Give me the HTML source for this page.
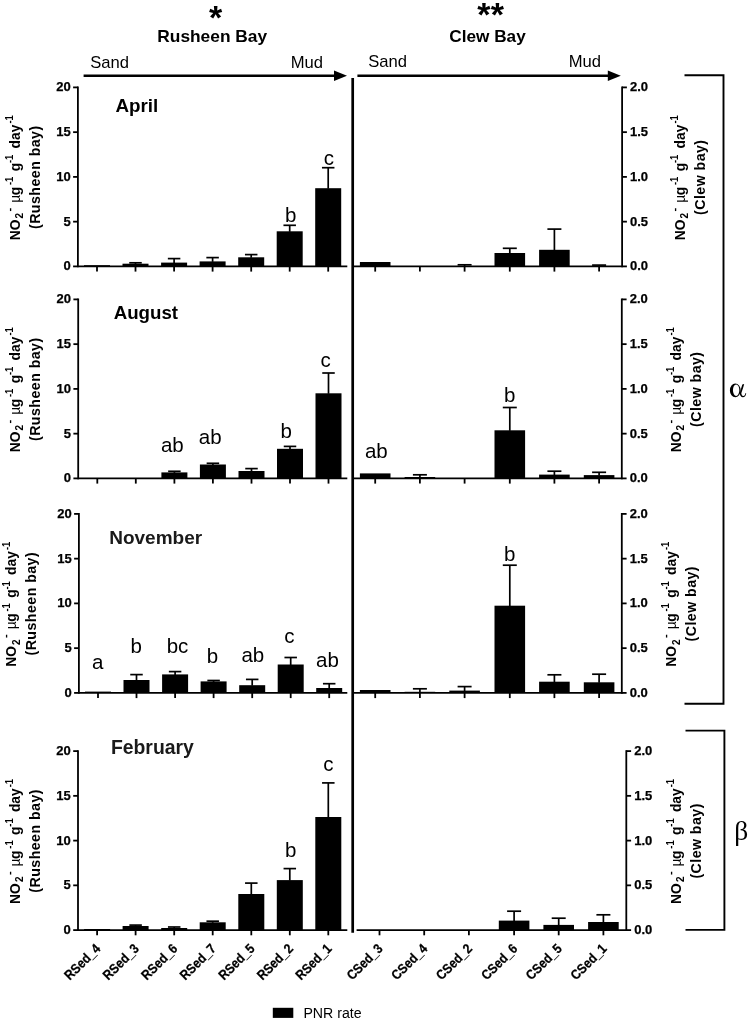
<!DOCTYPE html>
<html><head><meta charset="utf-8"><title>PNR rate</title>
<style>html,body{margin:0;padding:0;background:#fff;}svg{display:block;}text{font-family:"Liberation Sans", sans-serif;fill:#000;}.tk{stroke:#000;stroke-width:0.25px;}</style></head><body>
<svg width="750" height="1021" viewBox="0 0 750 1021">
<defs><filter id="soft" x="0" y="0" width="100%" height="100%" filterUnits="userSpaceOnUse" color-interpolation-filters="sRGB"><feGaussianBlur stdDeviation="0.5"/></filter></defs>
<rect width="750" height="1021" fill="#fff"/>
<g filter="url(#soft)">
<rect width="750" height="1021" fill="#fff"/>
<text x="215.5" y="28.7" font-size="34" font-weight="bold" text-anchor="middle">*</text>
<text x="483.8" y="25.8" font-size="34" font-weight="bold" text-anchor="middle">*</text>
<text x="497.4" y="25.8" font-size="34" font-weight="bold" text-anchor="middle">*</text>
<text x="157.3" y="42" font-size="16.4" font-weight="bold" textLength="109.8" lengthAdjust="spacingAndGlyphs">Rusheen Bay</text>
<text x="449.3" y="42.2" font-size="16.4" font-weight="bold" textLength="76.4" lengthAdjust="spacingAndGlyphs">Clew Bay</text>
<text x="90.2" y="68" font-size="16.6">Sand</text>
<text x="290.8" y="67.6" font-size="16.6">Mud</text>
<text x="368.2" y="66.6" font-size="16.6">Sand</text>
<text x="568.8" y="66.5" font-size="16.6">Mud</text>
<line x1="83.60" y1="75.70" x2="337.00" y2="75.70" stroke="#000" stroke-width="2.40"/>
<polygon points="347.00,75.70 334.00,70.50 334.00,80.90" fill="#000"/>
<line x1="357.40" y1="75.70" x2="610.80" y2="75.70" stroke="#000" stroke-width="2.40"/>
<polygon points="620.80,75.70 607.80,70.50 607.80,80.90" fill="#000"/>
<line x1="352.70" y1="78.00" x2="352.70" y2="932.80" stroke="#000" stroke-width="2.70"/>
<line x1="77.90" y1="86.50" x2="77.90" y2="267.30" stroke="#000" stroke-width="1.80"/>
<line x1="73.10" y1="266.40" x2="77.90" y2="266.40" stroke="#000" stroke-width="1.80"/>
<text x="70.70" y="270.40" font-size="13" font-weight="bold" text-anchor="end" class="tk">0</text>
<line x1="73.10" y1="221.65" x2="77.90" y2="221.65" stroke="#000" stroke-width="1.80"/>
<text x="70.70" y="225.65" font-size="13" font-weight="bold" text-anchor="end" class="tk">5</text>
<line x1="73.10" y1="176.90" x2="77.90" y2="176.90" stroke="#000" stroke-width="1.80"/>
<text x="70.70" y="180.90" font-size="13" font-weight="bold" text-anchor="end" class="tk">10</text>
<line x1="73.10" y1="132.15" x2="77.90" y2="132.15" stroke="#000" stroke-width="1.80"/>
<text x="70.70" y="136.15" font-size="13" font-weight="bold" text-anchor="end" class="tk">15</text>
<line x1="73.10" y1="87.40" x2="77.90" y2="87.40" stroke="#000" stroke-width="1.80"/>
<text x="70.70" y="91.40" font-size="13" font-weight="bold" text-anchor="end" class="tk">20</text>
<line x1="77.90" y1="266.40" x2="347.30" y2="266.40" stroke="#000" stroke-width="1.80"/>
<line x1="97.00" y1="266.40" x2="97.00" y2="271.60" stroke="#000" stroke-width="1.80"/>
<line x1="135.50" y1="266.40" x2="135.50" y2="271.60" stroke="#000" stroke-width="1.80"/>
<line x1="174.10" y1="266.40" x2="174.10" y2="271.60" stroke="#000" stroke-width="1.80"/>
<line x1="212.60" y1="266.40" x2="212.60" y2="271.60" stroke="#000" stroke-width="1.80"/>
<line x1="251.20" y1="266.40" x2="251.20" y2="271.60" stroke="#000" stroke-width="1.80"/>
<line x1="289.70" y1="266.40" x2="289.70" y2="271.60" stroke="#000" stroke-width="1.80"/>
<line x1="328.20" y1="266.40" x2="328.20" y2="271.60" stroke="#000" stroke-width="1.80"/>
<line x1="354.00" y1="266.40" x2="622.10" y2="266.40" stroke="#000" stroke-width="1.80"/>
<line x1="622.10" y1="86.50" x2="622.10" y2="267.30" stroke="#000" stroke-width="1.80"/>
<line x1="375.20" y1="266.40" x2="375.20" y2="271.60" stroke="#000" stroke-width="1.80"/>
<line x1="419.90" y1="266.40" x2="419.90" y2="271.60" stroke="#000" stroke-width="1.80"/>
<line x1="464.60" y1="266.40" x2="464.60" y2="271.60" stroke="#000" stroke-width="1.80"/>
<line x1="509.80" y1="266.40" x2="509.80" y2="271.60" stroke="#000" stroke-width="1.80"/>
<line x1="554.40" y1="266.40" x2="554.40" y2="271.60" stroke="#000" stroke-width="1.80"/>
<line x1="599.10" y1="266.40" x2="599.10" y2="271.60" stroke="#000" stroke-width="1.80"/>
<line x1="622.10" y1="266.40" x2="626.90" y2="266.40" stroke="#000" stroke-width="1.80"/>
<text x="630.00" y="270.40" font-size="13" font-weight="bold" class="tk">0.0</text>
<line x1="622.10" y1="221.65" x2="626.90" y2="221.65" stroke="#000" stroke-width="1.80"/>
<text x="630.00" y="225.65" font-size="13" font-weight="bold" class="tk">0.5</text>
<line x1="622.10" y1="176.90" x2="626.90" y2="176.90" stroke="#000" stroke-width="1.80"/>
<text x="630.00" y="180.90" font-size="13" font-weight="bold" class="tk">1.0</text>
<line x1="622.10" y1="132.15" x2="626.90" y2="132.15" stroke="#000" stroke-width="1.80"/>
<text x="630.00" y="136.15" font-size="13" font-weight="bold" class="tk">1.5</text>
<line x1="622.10" y1="87.40" x2="626.90" y2="87.40" stroke="#000" stroke-width="1.80"/>
<text x="630.00" y="91.40" font-size="13" font-weight="bold" class="tk">2.0</text>
<rect x="84.00" y="265.20" width="26.00" height="1.20" fill="#000"/>
<line x1="135.50" y1="262.80" x2="135.50" y2="264.20" stroke="#000" stroke-width="1.70"/>
<line x1="129.25" y1="262.80" x2="141.75" y2="262.80" stroke="#000" stroke-width="1.70"/>
<rect x="122.50" y="263.70" width="26.00" height="2.70" fill="#000"/>
<line x1="174.10" y1="258.60" x2="174.10" y2="263.10" stroke="#000" stroke-width="1.70"/>
<line x1="167.85" y1="258.60" x2="180.35" y2="258.60" stroke="#000" stroke-width="1.70"/>
<rect x="161.10" y="262.60" width="26.00" height="3.80" fill="#000"/>
<line x1="212.60" y1="257.60" x2="212.60" y2="261.90" stroke="#000" stroke-width="1.70"/>
<line x1="206.35" y1="257.60" x2="218.85" y2="257.60" stroke="#000" stroke-width="1.70"/>
<rect x="199.60" y="261.40" width="26.00" height="5.00" fill="#000"/>
<line x1="251.20" y1="254.60" x2="251.20" y2="257.80" stroke="#000" stroke-width="1.70"/>
<line x1="244.95" y1="254.60" x2="257.45" y2="254.60" stroke="#000" stroke-width="1.70"/>
<rect x="238.20" y="257.30" width="26.00" height="9.10" fill="#000"/>
<line x1="289.70" y1="225.30" x2="289.70" y2="231.80" stroke="#000" stroke-width="1.70"/>
<line x1="283.45" y1="225.30" x2="295.95" y2="225.30" stroke="#000" stroke-width="1.70"/>
<rect x="276.70" y="231.30" width="26.00" height="35.10" fill="#000"/>
<line x1="328.20" y1="167.70" x2="328.20" y2="188.70" stroke="#000" stroke-width="1.70"/>
<line x1="321.95" y1="167.70" x2="334.45" y2="167.70" stroke="#000" stroke-width="1.70"/>
<rect x="315.20" y="188.20" width="26.00" height="78.20" fill="#000"/>
<rect x="359.90" y="262.00" width="30.60" height="4.40" fill="#000"/>
<line x1="464.60" y1="264.80" x2="464.60" y2="266.50" stroke="#000" stroke-width="1.70"/>
<line x1="457.60" y1="264.80" x2="471.60" y2="264.80" stroke="#000" stroke-width="1.70"/>
<rect x="449.30" y="266.00" width="30.60" height="0.40" fill="#000"/>
<line x1="509.80" y1="248.30" x2="509.80" y2="253.50" stroke="#000" stroke-width="1.70"/>
<line x1="502.80" y1="248.30" x2="516.80" y2="248.30" stroke="#000" stroke-width="1.70"/>
<rect x="494.50" y="253.00" width="30.60" height="13.40" fill="#000"/>
<line x1="554.40" y1="229.10" x2="554.40" y2="250.30" stroke="#000" stroke-width="1.70"/>
<line x1="547.40" y1="229.10" x2="561.40" y2="229.10" stroke="#000" stroke-width="1.70"/>
<rect x="539.10" y="249.80" width="30.60" height="16.60" fill="#000"/>
<line x1="599.10" y1="265.10" x2="599.10" y2="266.50" stroke="#000" stroke-width="1.70"/>
<line x1="592.10" y1="265.10" x2="606.10" y2="265.10" stroke="#000" stroke-width="1.70"/>
<rect x="583.80" y="266.00" width="30.60" height="0.40" fill="#000"/>
<g transform="translate(19.70,177.20) rotate(-90)" font-weight="bold" font-size="13.8">
<text x="-63.10" y="0">NO</text>
<text x="-41.20" y="3.6" font-size="10">2</text>
<text x="-34.20" y="-7.0" font-size="11.2">-</text>
<text x="-25.60" y="0" font-weight="normal">µ</text>
<text x="-18.00" y="0">g</text>
<text x="-7.80" y="-6.6" font-size="11.2" textLength="8.3" lengthAdjust="spacingAndGlyphs">-1</text>
<text x="6.00" y="0">g</text>
<text x="14.20" y="-6.6" font-size="11.2" textLength="8.3" lengthAdjust="spacingAndGlyphs">-1</text>
<text x="28.80" y="0">day</text>
<text x="53.60" y="-6.6" font-size="11.2" textLength="8.3" lengthAdjust="spacingAndGlyphs">-1</text>
<text x="0" y="20.1" text-anchor="middle" font-size="14.2" letter-spacing="0.45">(Rusheen bay)</text>
</g>
<g transform="translate(684.80,177.20) rotate(-90)" font-weight="bold" font-size="13.8">
<text x="-63.10" y="0">NO</text>
<text x="-41.20" y="3.6" font-size="10">2</text>
<text x="-34.20" y="-7.0" font-size="11.2">-</text>
<text x="-25.60" y="0" font-weight="normal">µ</text>
<text x="-18.00" y="0">g</text>
<text x="-7.80" y="-6.6" font-size="11.2" textLength="8.3" lengthAdjust="spacingAndGlyphs">-1</text>
<text x="6.00" y="0">g</text>
<text x="14.20" y="-6.6" font-size="11.2" textLength="8.3" lengthAdjust="spacingAndGlyphs">-1</text>
<text x="28.80" y="0">day</text>
<text x="53.60" y="-6.6" font-size="11.2" textLength="8.3" lengthAdjust="spacingAndGlyphs">-1</text>
<text x="0" y="20.1" text-anchor="middle" font-size="14.2" letter-spacing="0.45">(Clew bay)</text>
</g>
<line x1="78.20" y1="298.50" x2="78.20" y2="479.30" stroke="#000" stroke-width="1.80"/>
<line x1="73.40" y1="478.40" x2="78.20" y2="478.40" stroke="#000" stroke-width="1.80"/>
<text x="71.00" y="482.40" font-size="13" font-weight="bold" text-anchor="end" class="tk">0</text>
<line x1="73.40" y1="433.65" x2="78.20" y2="433.65" stroke="#000" stroke-width="1.80"/>
<text x="71.00" y="437.65" font-size="13" font-weight="bold" text-anchor="end" class="tk">5</text>
<line x1="73.40" y1="388.90" x2="78.20" y2="388.90" stroke="#000" stroke-width="1.80"/>
<text x="71.00" y="392.90" font-size="13" font-weight="bold" text-anchor="end" class="tk">10</text>
<line x1="73.40" y1="344.15" x2="78.20" y2="344.15" stroke="#000" stroke-width="1.80"/>
<text x="71.00" y="348.15" font-size="13" font-weight="bold" text-anchor="end" class="tk">15</text>
<line x1="73.40" y1="299.40" x2="78.20" y2="299.40" stroke="#000" stroke-width="1.80"/>
<text x="71.00" y="303.40" font-size="13" font-weight="bold" text-anchor="end" class="tk">20</text>
<line x1="78.20" y1="478.40" x2="347.30" y2="478.40" stroke="#000" stroke-width="1.80"/>
<line x1="97.30" y1="478.40" x2="97.30" y2="483.60" stroke="#000" stroke-width="1.80"/>
<line x1="135.80" y1="478.40" x2="135.80" y2="483.60" stroke="#000" stroke-width="1.80"/>
<line x1="174.40" y1="478.40" x2="174.40" y2="483.60" stroke="#000" stroke-width="1.80"/>
<line x1="212.90" y1="478.40" x2="212.90" y2="483.60" stroke="#000" stroke-width="1.80"/>
<line x1="251.50" y1="478.40" x2="251.50" y2="483.60" stroke="#000" stroke-width="1.80"/>
<line x1="290.00" y1="478.40" x2="290.00" y2="483.60" stroke="#000" stroke-width="1.80"/>
<line x1="328.50" y1="478.40" x2="328.50" y2="483.60" stroke="#000" stroke-width="1.80"/>
<line x1="354.00" y1="478.40" x2="621.80" y2="478.40" stroke="#000" stroke-width="1.80"/>
<line x1="621.80" y1="298.50" x2="621.80" y2="479.30" stroke="#000" stroke-width="1.80"/>
<line x1="375.20" y1="478.40" x2="375.20" y2="483.60" stroke="#000" stroke-width="1.80"/>
<line x1="419.90" y1="478.40" x2="419.90" y2="483.60" stroke="#000" stroke-width="1.80"/>
<line x1="464.60" y1="478.40" x2="464.60" y2="483.60" stroke="#000" stroke-width="1.80"/>
<line x1="509.80" y1="478.40" x2="509.80" y2="483.60" stroke="#000" stroke-width="1.80"/>
<line x1="554.40" y1="478.40" x2="554.40" y2="483.60" stroke="#000" stroke-width="1.80"/>
<line x1="599.10" y1="478.40" x2="599.10" y2="483.60" stroke="#000" stroke-width="1.80"/>
<line x1="621.80" y1="478.40" x2="626.60" y2="478.40" stroke="#000" stroke-width="1.80"/>
<text x="629.70" y="482.40" font-size="13" font-weight="bold" class="tk">0.0</text>
<line x1="621.80" y1="433.65" x2="626.60" y2="433.65" stroke="#000" stroke-width="1.80"/>
<text x="629.70" y="437.65" font-size="13" font-weight="bold" class="tk">0.5</text>
<line x1="621.80" y1="388.90" x2="626.60" y2="388.90" stroke="#000" stroke-width="1.80"/>
<text x="629.70" y="392.90" font-size="13" font-weight="bold" class="tk">1.0</text>
<line x1="621.80" y1="344.15" x2="626.60" y2="344.15" stroke="#000" stroke-width="1.80"/>
<text x="629.70" y="348.15" font-size="13" font-weight="bold" class="tk">1.5</text>
<line x1="621.80" y1="299.40" x2="626.60" y2="299.40" stroke="#000" stroke-width="1.80"/>
<text x="629.70" y="303.40" font-size="13" font-weight="bold" class="tk">2.0</text>
<line x1="174.40" y1="471.30" x2="174.40" y2="472.90" stroke="#000" stroke-width="1.70"/>
<line x1="168.15" y1="471.30" x2="180.65" y2="471.30" stroke="#000" stroke-width="1.70"/>
<rect x="161.40" y="472.40" width="26.00" height="6.00" fill="#000"/>
<line x1="212.90" y1="463.30" x2="212.90" y2="465.00" stroke="#000" stroke-width="1.70"/>
<line x1="206.65" y1="463.30" x2="219.15" y2="463.30" stroke="#000" stroke-width="1.70"/>
<rect x="199.90" y="464.50" width="26.00" height="13.90" fill="#000"/>
<line x1="251.50" y1="468.60" x2="251.50" y2="471.50" stroke="#000" stroke-width="1.70"/>
<line x1="245.25" y1="468.60" x2="257.75" y2="468.60" stroke="#000" stroke-width="1.70"/>
<rect x="238.50" y="471.00" width="26.00" height="7.40" fill="#000"/>
<line x1="290.00" y1="446.40" x2="290.00" y2="449.30" stroke="#000" stroke-width="1.70"/>
<line x1="283.75" y1="446.40" x2="296.25" y2="446.40" stroke="#000" stroke-width="1.70"/>
<rect x="277.00" y="448.80" width="26.00" height="29.60" fill="#000"/>
<line x1="328.50" y1="373.00" x2="328.50" y2="393.80" stroke="#000" stroke-width="1.70"/>
<line x1="322.25" y1="373.00" x2="334.75" y2="373.00" stroke="#000" stroke-width="1.70"/>
<rect x="315.50" y="393.30" width="26.00" height="85.10" fill="#000"/>
<rect x="359.90" y="473.40" width="30.60" height="5.00" fill="#000"/>
<line x1="419.90" y1="474.80" x2="419.90" y2="477.50" stroke="#000" stroke-width="1.70"/>
<line x1="412.90" y1="474.80" x2="426.90" y2="474.80" stroke="#000" stroke-width="1.70"/>
<rect x="404.60" y="477.00" width="30.60" height="1.40" fill="#000"/>
<line x1="509.80" y1="407.50" x2="509.80" y2="430.80" stroke="#000" stroke-width="1.70"/>
<line x1="502.80" y1="407.50" x2="516.80" y2="407.50" stroke="#000" stroke-width="1.70"/>
<rect x="494.50" y="430.30" width="30.60" height="48.10" fill="#000"/>
<line x1="554.40" y1="471.20" x2="554.40" y2="475.10" stroke="#000" stroke-width="1.70"/>
<line x1="547.40" y1="471.20" x2="561.40" y2="471.20" stroke="#000" stroke-width="1.70"/>
<rect x="539.10" y="474.60" width="30.60" height="3.80" fill="#000"/>
<line x1="599.10" y1="472.30" x2="599.10" y2="475.60" stroke="#000" stroke-width="1.70"/>
<line x1="592.10" y1="472.30" x2="606.10" y2="472.30" stroke="#000" stroke-width="1.70"/>
<rect x="583.80" y="475.10" width="30.60" height="3.30" fill="#000"/>
<g transform="translate(19.70,389.20) rotate(-90)" font-weight="bold" font-size="13.8">
<text x="-63.10" y="0">NO</text>
<text x="-41.20" y="3.6" font-size="10">2</text>
<text x="-34.20" y="-7.0" font-size="11.2">-</text>
<text x="-25.60" y="0" font-weight="normal">µ</text>
<text x="-18.00" y="0">g</text>
<text x="-7.80" y="-6.6" font-size="11.2" textLength="8.3" lengthAdjust="spacingAndGlyphs">-1</text>
<text x="6.00" y="0">g</text>
<text x="14.20" y="-6.6" font-size="11.2" textLength="8.3" lengthAdjust="spacingAndGlyphs">-1</text>
<text x="28.80" y="0">day</text>
<text x="53.60" y="-6.6" font-size="11.2" textLength="8.3" lengthAdjust="spacingAndGlyphs">-1</text>
<text x="0" y="20.1" text-anchor="middle" font-size="14.2" letter-spacing="0.45">(Rusheen bay)</text>
</g>
<g transform="translate(680.70,389.20) rotate(-90)" font-weight="bold" font-size="13.8">
<text x="-63.10" y="0">NO</text>
<text x="-41.20" y="3.6" font-size="10">2</text>
<text x="-34.20" y="-7.0" font-size="11.2">-</text>
<text x="-25.60" y="0" font-weight="normal">µ</text>
<text x="-18.00" y="0">g</text>
<text x="-7.80" y="-6.6" font-size="11.2" textLength="8.3" lengthAdjust="spacingAndGlyphs">-1</text>
<text x="6.00" y="0">g</text>
<text x="14.20" y="-6.6" font-size="11.2" textLength="8.3" lengthAdjust="spacingAndGlyphs">-1</text>
<text x="28.80" y="0">day</text>
<text x="53.60" y="-6.6" font-size="11.2" textLength="8.3" lengthAdjust="spacingAndGlyphs">-1</text>
<text x="0" y="20.1" text-anchor="middle" font-size="14.2" letter-spacing="0.45">(Clew bay)</text>
</g>
<line x1="78.90" y1="513.00" x2="78.90" y2="693.80" stroke="#000" stroke-width="1.80"/>
<line x1="74.10" y1="692.90" x2="78.90" y2="692.90" stroke="#000" stroke-width="1.80"/>
<text x="71.70" y="696.90" font-size="13" font-weight="bold" text-anchor="end" class="tk">0</text>
<line x1="74.10" y1="648.15" x2="78.90" y2="648.15" stroke="#000" stroke-width="1.80"/>
<text x="71.70" y="652.15" font-size="13" font-weight="bold" text-anchor="end" class="tk">5</text>
<line x1="74.10" y1="603.40" x2="78.90" y2="603.40" stroke="#000" stroke-width="1.80"/>
<text x="71.70" y="607.40" font-size="13" font-weight="bold" text-anchor="end" class="tk">10</text>
<line x1="74.10" y1="558.65" x2="78.90" y2="558.65" stroke="#000" stroke-width="1.80"/>
<text x="71.70" y="562.65" font-size="13" font-weight="bold" text-anchor="end" class="tk">15</text>
<line x1="74.10" y1="513.90" x2="78.90" y2="513.90" stroke="#000" stroke-width="1.80"/>
<text x="71.70" y="517.90" font-size="13" font-weight="bold" text-anchor="end" class="tk">20</text>
<line x1="78.90" y1="692.90" x2="347.30" y2="692.90" stroke="#000" stroke-width="1.80"/>
<line x1="98.00" y1="692.90" x2="98.00" y2="698.10" stroke="#000" stroke-width="1.80"/>
<line x1="136.50" y1="692.90" x2="136.50" y2="698.10" stroke="#000" stroke-width="1.80"/>
<line x1="175.10" y1="692.90" x2="175.10" y2="698.10" stroke="#000" stroke-width="1.80"/>
<line x1="213.60" y1="692.90" x2="213.60" y2="698.10" stroke="#000" stroke-width="1.80"/>
<line x1="252.20" y1="692.90" x2="252.20" y2="698.10" stroke="#000" stroke-width="1.80"/>
<line x1="290.70" y1="692.90" x2="290.70" y2="698.10" stroke="#000" stroke-width="1.80"/>
<line x1="329.20" y1="692.90" x2="329.20" y2="698.10" stroke="#000" stroke-width="1.80"/>
<line x1="354.00" y1="692.90" x2="621.80" y2="692.90" stroke="#000" stroke-width="1.80"/>
<line x1="621.80" y1="513.00" x2="621.80" y2="693.80" stroke="#000" stroke-width="1.80"/>
<line x1="375.20" y1="692.90" x2="375.20" y2="698.10" stroke="#000" stroke-width="1.80"/>
<line x1="419.90" y1="692.90" x2="419.90" y2="698.10" stroke="#000" stroke-width="1.80"/>
<line x1="464.60" y1="692.90" x2="464.60" y2="698.10" stroke="#000" stroke-width="1.80"/>
<line x1="509.80" y1="692.90" x2="509.80" y2="698.10" stroke="#000" stroke-width="1.80"/>
<line x1="554.40" y1="692.90" x2="554.40" y2="698.10" stroke="#000" stroke-width="1.80"/>
<line x1="599.10" y1="692.90" x2="599.10" y2="698.10" stroke="#000" stroke-width="1.80"/>
<line x1="621.80" y1="692.90" x2="626.60" y2="692.90" stroke="#000" stroke-width="1.80"/>
<text x="629.70" y="696.90" font-size="13" font-weight="bold" class="tk">0.0</text>
<line x1="621.80" y1="648.15" x2="626.60" y2="648.15" stroke="#000" stroke-width="1.80"/>
<text x="629.70" y="652.15" font-size="13" font-weight="bold" class="tk">0.5</text>
<line x1="621.80" y1="603.40" x2="626.60" y2="603.40" stroke="#000" stroke-width="1.80"/>
<text x="629.70" y="607.40" font-size="13" font-weight="bold" class="tk">1.0</text>
<line x1="621.80" y1="558.65" x2="626.60" y2="558.65" stroke="#000" stroke-width="1.80"/>
<text x="629.70" y="562.65" font-size="13" font-weight="bold" class="tk">1.5</text>
<line x1="621.80" y1="513.90" x2="626.60" y2="513.90" stroke="#000" stroke-width="1.80"/>
<text x="629.70" y="517.90" font-size="13" font-weight="bold" class="tk">2.0</text>
<rect x="85.00" y="691.60" width="26.00" height="1.30" fill="#000"/>
<line x1="136.50" y1="674.60" x2="136.50" y2="680.50" stroke="#000" stroke-width="1.70"/>
<line x1="130.25" y1="674.60" x2="142.75" y2="674.60" stroke="#000" stroke-width="1.70"/>
<rect x="123.50" y="680.00" width="26.00" height="12.90" fill="#000"/>
<line x1="175.10" y1="671.60" x2="175.10" y2="674.90" stroke="#000" stroke-width="1.70"/>
<line x1="168.85" y1="671.60" x2="181.35" y2="671.60" stroke="#000" stroke-width="1.70"/>
<rect x="162.10" y="674.40" width="26.00" height="18.50" fill="#000"/>
<line x1="213.60" y1="680.50" x2="213.60" y2="681.90" stroke="#000" stroke-width="1.70"/>
<line x1="207.35" y1="680.50" x2="219.85" y2="680.50" stroke="#000" stroke-width="1.70"/>
<rect x="200.60" y="681.40" width="26.00" height="11.50" fill="#000"/>
<line x1="252.20" y1="679.40" x2="252.20" y2="685.70" stroke="#000" stroke-width="1.70"/>
<line x1="245.95" y1="679.40" x2="258.45" y2="679.40" stroke="#000" stroke-width="1.70"/>
<rect x="239.20" y="685.20" width="26.00" height="7.70" fill="#000"/>
<line x1="290.70" y1="657.50" x2="290.70" y2="665.00" stroke="#000" stroke-width="1.70"/>
<line x1="284.45" y1="657.50" x2="296.95" y2="657.50" stroke="#000" stroke-width="1.70"/>
<rect x="277.70" y="664.50" width="26.00" height="28.40" fill="#000"/>
<line x1="329.20" y1="683.70" x2="329.20" y2="688.50" stroke="#000" stroke-width="1.70"/>
<line x1="322.95" y1="683.70" x2="335.45" y2="683.70" stroke="#000" stroke-width="1.70"/>
<rect x="316.20" y="688.00" width="26.00" height="4.90" fill="#000"/>
<rect x="359.90" y="690.00" width="30.60" height="2.90" fill="#000"/>
<line x1="419.90" y1="688.80" x2="419.90" y2="692.30" stroke="#000" stroke-width="1.70"/>
<line x1="412.90" y1="688.80" x2="426.90" y2="688.80" stroke="#000" stroke-width="1.70"/>
<rect x="404.60" y="691.80" width="30.60" height="1.10" fill="#000"/>
<line x1="464.60" y1="686.60" x2="464.60" y2="691.10" stroke="#000" stroke-width="1.70"/>
<line x1="457.60" y1="686.60" x2="471.60" y2="686.60" stroke="#000" stroke-width="1.70"/>
<rect x="449.30" y="690.60" width="30.60" height="2.30" fill="#000"/>
<line x1="509.80" y1="565.20" x2="509.80" y2="606.20" stroke="#000" stroke-width="1.70"/>
<line x1="502.80" y1="565.20" x2="516.80" y2="565.20" stroke="#000" stroke-width="1.70"/>
<rect x="494.50" y="605.70" width="30.60" height="87.20" fill="#000"/>
<line x1="554.40" y1="674.80" x2="554.40" y2="682.20" stroke="#000" stroke-width="1.70"/>
<line x1="547.40" y1="674.80" x2="561.40" y2="674.80" stroke="#000" stroke-width="1.70"/>
<rect x="539.10" y="681.70" width="30.60" height="11.20" fill="#000"/>
<line x1="599.10" y1="674.20" x2="599.10" y2="682.80" stroke="#000" stroke-width="1.70"/>
<line x1="592.10" y1="674.20" x2="606.10" y2="674.20" stroke="#000" stroke-width="1.70"/>
<rect x="583.80" y="682.30" width="30.60" height="10.60" fill="#000"/>
<g transform="translate(16.30,603.70) rotate(-90)" font-weight="bold" font-size="13.8">
<text x="-63.10" y="0">NO</text>
<text x="-41.20" y="3.6" font-size="10">2</text>
<text x="-34.20" y="-7.0" font-size="11.2">-</text>
<text x="-25.60" y="0" font-weight="normal">µ</text>
<text x="-18.00" y="0">g</text>
<text x="-7.80" y="-6.6" font-size="11.2" textLength="8.3" lengthAdjust="spacingAndGlyphs">-1</text>
<text x="6.00" y="0">g</text>
<text x="14.20" y="-6.6" font-size="11.2" textLength="8.3" lengthAdjust="spacingAndGlyphs">-1</text>
<text x="28.80" y="0">day</text>
<text x="53.60" y="-6.6" font-size="11.2" textLength="8.3" lengthAdjust="spacingAndGlyphs">-1</text>
<text x="0" y="20.1" text-anchor="middle" font-size="14.2" letter-spacing="0.45">(Rusheen bay)</text>
</g>
<g transform="translate(676.00,603.70) rotate(-90)" font-weight="bold" font-size="13.8">
<text x="-63.10" y="0">NO</text>
<text x="-41.20" y="3.6" font-size="10">2</text>
<text x="-34.20" y="-7.0" font-size="11.2">-</text>
<text x="-25.60" y="0" font-weight="normal">µ</text>
<text x="-18.00" y="0">g</text>
<text x="-7.80" y="-6.6" font-size="11.2" textLength="8.3" lengthAdjust="spacingAndGlyphs">-1</text>
<text x="6.00" y="0">g</text>
<text x="14.20" y="-6.6" font-size="11.2" textLength="8.3" lengthAdjust="spacingAndGlyphs">-1</text>
<text x="28.80" y="0">day</text>
<text x="53.60" y="-6.6" font-size="11.2" textLength="8.3" lengthAdjust="spacingAndGlyphs">-1</text>
<text x="0" y="20.1" text-anchor="middle" font-size="14.2" letter-spacing="0.45">(Clew bay)</text>
</g>
<line x1="78.00" y1="750.20" x2="78.00" y2="931.00" stroke="#000" stroke-width="1.80"/>
<line x1="73.20" y1="930.10" x2="78.00" y2="930.10" stroke="#000" stroke-width="1.80"/>
<text x="70.80" y="934.10" font-size="13" font-weight="bold" text-anchor="end" class="tk">0</text>
<line x1="73.20" y1="885.35" x2="78.00" y2="885.35" stroke="#000" stroke-width="1.80"/>
<text x="70.80" y="889.35" font-size="13" font-weight="bold" text-anchor="end" class="tk">5</text>
<line x1="73.20" y1="840.60" x2="78.00" y2="840.60" stroke="#000" stroke-width="1.80"/>
<text x="70.80" y="844.60" font-size="13" font-weight="bold" text-anchor="end" class="tk">10</text>
<line x1="73.20" y1="795.85" x2="78.00" y2="795.85" stroke="#000" stroke-width="1.80"/>
<text x="70.80" y="799.85" font-size="13" font-weight="bold" text-anchor="end" class="tk">15</text>
<line x1="73.20" y1="751.10" x2="78.00" y2="751.10" stroke="#000" stroke-width="1.80"/>
<text x="70.80" y="755.10" font-size="13" font-weight="bold" text-anchor="end" class="tk">20</text>
<line x1="78.00" y1="930.10" x2="347.30" y2="930.10" stroke="#000" stroke-width="1.80"/>
<line x1="97.10" y1="930.10" x2="97.10" y2="935.30" stroke="#000" stroke-width="1.80"/>
<line x1="135.60" y1="930.10" x2="135.60" y2="935.30" stroke="#000" stroke-width="1.80"/>
<line x1="174.20" y1="930.10" x2="174.20" y2="935.30" stroke="#000" stroke-width="1.80"/>
<line x1="212.70" y1="930.10" x2="212.70" y2="935.30" stroke="#000" stroke-width="1.80"/>
<line x1="251.30" y1="930.10" x2="251.30" y2="935.30" stroke="#000" stroke-width="1.80"/>
<line x1="289.80" y1="930.10" x2="289.80" y2="935.30" stroke="#000" stroke-width="1.80"/>
<line x1="328.30" y1="930.10" x2="328.30" y2="935.30" stroke="#000" stroke-width="1.80"/>
<line x1="356.60" y1="930.10" x2="626.30" y2="930.10" stroke="#000" stroke-width="1.80"/>
<line x1="626.30" y1="750.20" x2="626.30" y2="931.00" stroke="#000" stroke-width="1.80"/>
<line x1="379.50" y1="930.10" x2="379.50" y2="935.30" stroke="#000" stroke-width="1.80"/>
<line x1="424.20" y1="930.10" x2="424.20" y2="935.30" stroke="#000" stroke-width="1.80"/>
<line x1="468.90" y1="930.10" x2="468.90" y2="935.30" stroke="#000" stroke-width="1.80"/>
<line x1="514.10" y1="930.10" x2="514.10" y2="935.30" stroke="#000" stroke-width="1.80"/>
<line x1="558.70" y1="930.10" x2="558.70" y2="935.30" stroke="#000" stroke-width="1.80"/>
<line x1="603.40" y1="930.10" x2="603.40" y2="935.30" stroke="#000" stroke-width="1.80"/>
<line x1="626.30" y1="930.10" x2="631.10" y2="930.10" stroke="#000" stroke-width="1.80"/>
<text x="634.20" y="934.10" font-size="13" font-weight="bold" class="tk">0.0</text>
<line x1="626.30" y1="885.35" x2="631.10" y2="885.35" stroke="#000" stroke-width="1.80"/>
<text x="634.20" y="889.35" font-size="13" font-weight="bold" class="tk">0.5</text>
<line x1="626.30" y1="840.60" x2="631.10" y2="840.60" stroke="#000" stroke-width="1.80"/>
<text x="634.20" y="844.60" font-size="13" font-weight="bold" class="tk">1.0</text>
<line x1="626.30" y1="795.85" x2="631.10" y2="795.85" stroke="#000" stroke-width="1.80"/>
<text x="634.20" y="799.85" font-size="13" font-weight="bold" class="tk">1.5</text>
<line x1="626.30" y1="751.10" x2="631.10" y2="751.10" stroke="#000" stroke-width="1.80"/>
<text x="634.20" y="755.10" font-size="13" font-weight="bold" class="tk">2.0</text>
<rect x="84.10" y="929.00" width="26.00" height="1.10" fill="#000"/>
<line x1="135.60" y1="925.10" x2="135.60" y2="926.50" stroke="#000" stroke-width="1.70"/>
<line x1="129.35" y1="925.10" x2="141.85" y2="925.10" stroke="#000" stroke-width="1.70"/>
<rect x="122.60" y="926.00" width="26.00" height="4.10" fill="#000"/>
<line x1="174.20" y1="927.00" x2="174.20" y2="928.50" stroke="#000" stroke-width="1.70"/>
<line x1="167.95" y1="927.00" x2="180.45" y2="927.00" stroke="#000" stroke-width="1.70"/>
<rect x="161.20" y="928.00" width="26.00" height="2.10" fill="#000"/>
<line x1="212.70" y1="921.20" x2="212.70" y2="922.80" stroke="#000" stroke-width="1.70"/>
<line x1="206.45" y1="921.20" x2="218.95" y2="921.20" stroke="#000" stroke-width="1.70"/>
<rect x="199.70" y="922.30" width="26.00" height="7.80" fill="#000"/>
<line x1="251.30" y1="883.10" x2="251.30" y2="894.50" stroke="#000" stroke-width="1.70"/>
<line x1="245.05" y1="883.10" x2="257.55" y2="883.10" stroke="#000" stroke-width="1.70"/>
<rect x="238.30" y="894.00" width="26.00" height="36.10" fill="#000"/>
<line x1="289.80" y1="868.60" x2="289.80" y2="880.60" stroke="#000" stroke-width="1.70"/>
<line x1="283.55" y1="868.60" x2="296.05" y2="868.60" stroke="#000" stroke-width="1.70"/>
<rect x="276.80" y="880.10" width="26.00" height="50.00" fill="#000"/>
<line x1="328.30" y1="782.90" x2="328.30" y2="817.50" stroke="#000" stroke-width="1.70"/>
<line x1="322.05" y1="782.90" x2="334.55" y2="782.90" stroke="#000" stroke-width="1.70"/>
<rect x="315.30" y="817.00" width="26.00" height="113.10" fill="#000"/>
<line x1="514.10" y1="911.20" x2="514.10" y2="921.10" stroke="#000" stroke-width="1.70"/>
<line x1="507.10" y1="911.20" x2="521.10" y2="911.20" stroke="#000" stroke-width="1.70"/>
<rect x="498.80" y="920.60" width="30.60" height="9.50" fill="#000"/>
<line x1="558.70" y1="918.20" x2="558.70" y2="925.40" stroke="#000" stroke-width="1.70"/>
<line x1="551.70" y1="918.20" x2="565.70" y2="918.20" stroke="#000" stroke-width="1.70"/>
<rect x="543.40" y="924.90" width="30.60" height="5.20" fill="#000"/>
<line x1="603.40" y1="914.80" x2="603.40" y2="922.50" stroke="#000" stroke-width="1.70"/>
<line x1="596.40" y1="914.80" x2="610.40" y2="914.80" stroke="#000" stroke-width="1.70"/>
<rect x="588.10" y="922.00" width="30.60" height="8.10" fill="#000"/>
<g transform="translate(19.70,840.90) rotate(-90)" font-weight="bold" font-size="13.8">
<text x="-63.10" y="0">NO</text>
<text x="-41.20" y="3.6" font-size="10">2</text>
<text x="-34.20" y="-7.0" font-size="11.2">-</text>
<text x="-25.60" y="0" font-weight="normal">µ</text>
<text x="-18.00" y="0">g</text>
<text x="-7.80" y="-6.6" font-size="11.2" textLength="8.3" lengthAdjust="spacingAndGlyphs">-1</text>
<text x="6.00" y="0">g</text>
<text x="14.20" y="-6.6" font-size="11.2" textLength="8.3" lengthAdjust="spacingAndGlyphs">-1</text>
<text x="28.80" y="0">day</text>
<text x="53.60" y="-6.6" font-size="11.2" textLength="8.3" lengthAdjust="spacingAndGlyphs">-1</text>
<text x="0" y="20.1" text-anchor="middle" font-size="14.2" letter-spacing="0.45">(Rusheen bay)</text>
</g>
<g transform="translate(680.70,840.90) rotate(-90)" font-weight="bold" font-size="13.8">
<text x="-63.10" y="0">NO</text>
<text x="-41.20" y="3.6" font-size="10">2</text>
<text x="-34.20" y="-7.0" font-size="11.2">-</text>
<text x="-25.60" y="0" font-weight="normal">µ</text>
<text x="-18.00" y="0">g</text>
<text x="-7.80" y="-6.6" font-size="11.2" textLength="8.3" lengthAdjust="spacingAndGlyphs">-1</text>
<text x="6.00" y="0">g</text>
<text x="14.20" y="-6.6" font-size="11.2" textLength="8.3" lengthAdjust="spacingAndGlyphs">-1</text>
<text x="28.80" y="0">day</text>
<text x="53.60" y="-6.6" font-size="11.2" textLength="8.3" lengthAdjust="spacingAndGlyphs">-1</text>
<text x="0" y="20.1" text-anchor="middle" font-size="14.2" letter-spacing="0.45">(Clew bay)</text>
</g>
<text x="290.60" y="221.70" font-size="20.5" text-anchor="middle">b</text>
<text x="328.90" y="165.00" font-size="20.5" text-anchor="middle">c</text>
<text x="172.30" y="452.40" font-size="20.5" text-anchor="middle">ab</text>
<text x="210.20" y="443.80" font-size="20.5" text-anchor="middle">ab</text>
<text x="286.10" y="438.10" font-size="20.5" text-anchor="middle">b</text>
<text x="325.60" y="366.60" font-size="20.5" text-anchor="middle">c</text>
<text x="376.30" y="457.70" font-size="20.5" text-anchor="middle">ab</text>
<text x="509.60" y="402.00" font-size="20.5" text-anchor="middle">b</text>
<text x="97.60" y="669.40" font-size="20.5" text-anchor="middle">a</text>
<text x="136.20" y="653.00" font-size="20.5" text-anchor="middle">b</text>
<text x="177.50" y="653.00" font-size="20.5" text-anchor="middle">bc</text>
<text x="212.50" y="663.40" font-size="20.5" text-anchor="middle">b</text>
<text x="252.80" y="661.70" font-size="20.5" text-anchor="middle">ab</text>
<text x="289.30" y="643.20" font-size="20.5" text-anchor="middle">c</text>
<text x="327.50" y="667.00" font-size="20.5" text-anchor="middle">ab</text>
<text x="509.60" y="560.70" font-size="20.5" text-anchor="middle">b</text>
<text x="290.60" y="856.70" font-size="20.5" text-anchor="middle">b</text>
<text x="328.30" y="771.30" font-size="20.5" text-anchor="middle">c</text>
<text x="115.40" y="111.70" font-size="18.8" font-weight="bold" style="fill:#000">April</text>
<text x="113.70" y="318.60" font-size="18.7" font-weight="bold" style="fill:#000">August</text>
<text x="109.20" y="543.60" font-size="19.0" font-weight="bold" style="fill:#1a1a1a">November</text>
<text x="110.90" y="753.90" font-size="19.4" font-weight="bold" style="fill:#1a1a1a">February</text>
<text transform="translate(101.20,949.40) rotate(-45)" font-size="13.6" font-weight="bold" text-anchor="end" class="tk" textLength="44.5" lengthAdjust="spacingAndGlyphs">RSed_4</text>
<text transform="translate(139.70,949.40) rotate(-45)" font-size="13.6" font-weight="bold" text-anchor="end" class="tk" textLength="44.5" lengthAdjust="spacingAndGlyphs">RSed_3</text>
<text transform="translate(178.30,949.40) rotate(-45)" font-size="13.6" font-weight="bold" text-anchor="end" class="tk" textLength="44.5" lengthAdjust="spacingAndGlyphs">RSed_6</text>
<text transform="translate(216.80,949.40) rotate(-45)" font-size="13.6" font-weight="bold" text-anchor="end" class="tk" textLength="44.5" lengthAdjust="spacingAndGlyphs">RSed_7</text>
<text transform="translate(255.40,949.40) rotate(-45)" font-size="13.6" font-weight="bold" text-anchor="end" class="tk" textLength="44.5" lengthAdjust="spacingAndGlyphs">RSed_5</text>
<text transform="translate(293.90,949.40) rotate(-45)" font-size="13.6" font-weight="bold" text-anchor="end" class="tk" textLength="44.5" lengthAdjust="spacingAndGlyphs">RSed_2</text>
<text transform="translate(332.40,949.40) rotate(-45)" font-size="13.6" font-weight="bold" text-anchor="end" class="tk" textLength="44.5" lengthAdjust="spacingAndGlyphs">RSed_1</text>
<text transform="translate(383.60,949.40) rotate(-45)" font-size="13.6" font-weight="bold" text-anchor="end" class="tk" textLength="44.5" lengthAdjust="spacingAndGlyphs">CSed_3</text>
<text transform="translate(428.30,949.40) rotate(-45)" font-size="13.6" font-weight="bold" text-anchor="end" class="tk" textLength="44.5" lengthAdjust="spacingAndGlyphs">CSed_4</text>
<text transform="translate(473.00,949.40) rotate(-45)" font-size="13.6" font-weight="bold" text-anchor="end" class="tk" textLength="44.5" lengthAdjust="spacingAndGlyphs">CSed_2</text>
<text transform="translate(518.20,949.40) rotate(-45)" font-size="13.6" font-weight="bold" text-anchor="end" class="tk" textLength="44.5" lengthAdjust="spacingAndGlyphs">CSed_6</text>
<text transform="translate(562.80,949.40) rotate(-45)" font-size="13.6" font-weight="bold" text-anchor="end" class="tk" textLength="44.5" lengthAdjust="spacingAndGlyphs">CSed_5</text>
<text transform="translate(607.50,949.40) rotate(-45)" font-size="13.6" font-weight="bold" text-anchor="end" class="tk" textLength="44.5" lengthAdjust="spacingAndGlyphs">CSed_1</text>
<polyline points="684.50,75.30 723.50,75.30 723.50,703.70 684.50,703.70" fill="none" stroke="#000" stroke-width="1.9"/>
<polyline points="685.50,730.60 724.40,730.60 724.40,929.90 685.50,929.90" fill="none" stroke="#000" stroke-width="1.9"/>
<g transform="translate(724,376) scale(0.03466)" fill="#000"><title>α</title><path fill-rule="evenodd" d="M170,415 a155,197 0 1,0 310,0 a155,197 0 1,0 -310,0 Z M258,410 a92,168 0 1,0 184,0 a92,168 0 1,0 -184,0 Z"/><path d="M528,242 L582,232 C560,330 520,430 500,500 C505,560 540,590 575,570 C600,555 615,530 620,488 L641,497 C632,570 595,614 545,614 C490,614 463,560 453,505 C470,420 505,320 528,242 Z"/></g>
<text x="741.3" y="839.8" font-size="27.5" text-anchor="middle" style="font-family:'Liberation Serif', serif">β</text>
<rect x="272.80" y="1007.80" width="20.50" height="10.10" fill="#000"/>
<text x="303.4" y="1017.8" font-size="14.15">PNR rate</text>
</g>
</svg></body></html>
